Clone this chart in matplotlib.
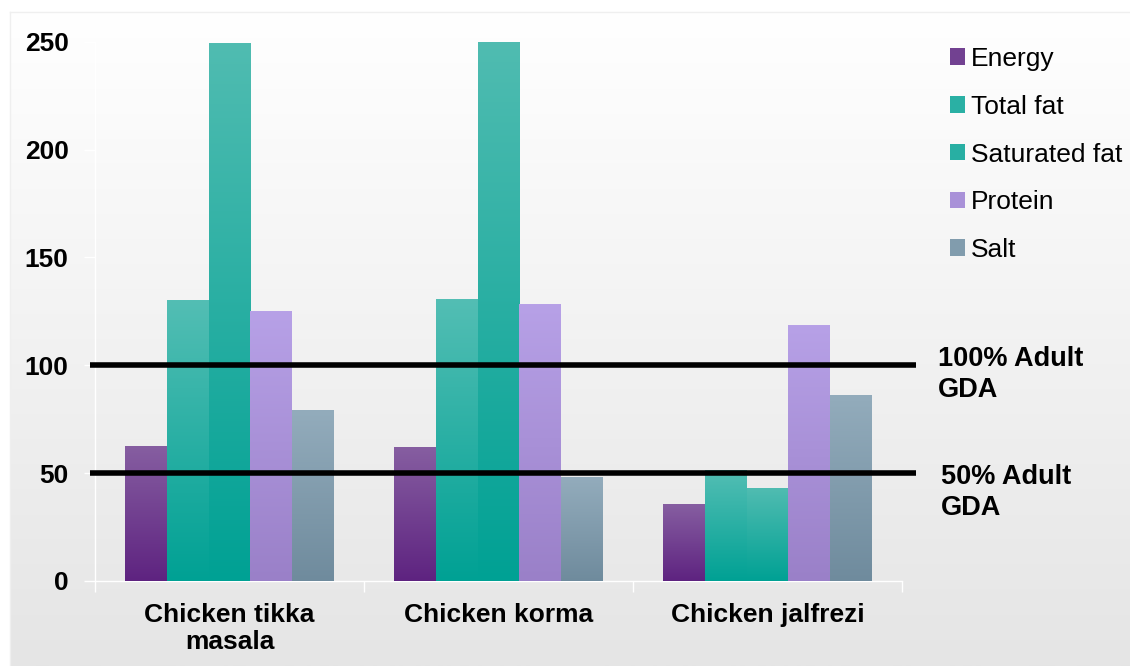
import numpy as np
import matplotlib
matplotlib.use("Agg")
import matplotlib.pyplot as plt
from matplotlib.colors import LinearSegmentedColormap
from matplotlib.patches import Patch

plt.rcParams["font.family"] = ["Liberation Sans", "DejaVu Sans"]

# % of adult GDA per portion
dishes = ["Chicken tikka\nmasala", "Chicken korma", "Chicken jalfrezi"]
nutrients = ["Energy", "Total fat", "Saturated fat", "Protein", "Salt"]
energy = [62.5, 62, 35.5]
total_fat = [130, 130.5, 51]
saturated_fat = [249, 250, 43]
protein = [125, 128, 118.5]
salt = [79, 48, 86]
gda_levels = [100, 50]
gda_labels = ["100% Adult\nGDA", "50% Adult\nGDA"]

series = [energy, total_fat, saturated_fat, protein, salt]
# (top, bottom) gradient colours for each nutrient
shades = [
    ("#865ea1", "#5e2380"),
    ("#53beb4", "#00a194"),
    ("#50bcb1", "#00a194"),
    ("#b7a1e7", "#9a80c8"),
    ("#93acbc", "#6f8b9d"),
]

fig = plt.figure(figsize=(11.3, 6.66), dpi=100)

# chart area background: white fading to light grey
bg = fig.add_axes([10 / 1130, 0, 1 - 10 / 1130, 1 - 12 / 666], zorder=-10)
grad = np.linspace(0, 1, 256).reshape(-1, 1)
bg_cmap = LinearSegmentedColormap.from_list("bg", ["#ffffff", "#e5e5e5"])
bg.imshow(grad, cmap=bg_cmap, aspect="auto", extent=[0, 1, 1, 0])
bg.set_xlim(0, 1)
bg.set_ylim(1, 0)
bg.set_xticks([])
bg.set_yticks([])
for s in bg.spines.values():
    s.set_color("#efefef")
    s.set_linewidth(1)
bg.spines["right"].set_visible(False)
bg.spines["bottom"].set_visible(False)

ax = fig.add_axes([95 / 1130, 1 - 581 / 666, (902 - 95) / 1130, (581 - 41.7) / 666])
ax.set_facecolor("none")

x = np.arange(len(dishes))
width = 0.155
for i, (vals, (top, bottom)) in enumerate(zip(series, shades)):
    bars = ax.bar(x + (i - 2) * width, vals, width, color=bottom, zorder=2)
    cmap = LinearSegmentedColormap.from_list(nutrients[i], [bottom, top])
    for b in bars:
        bx, bw, bh = b.get_x(), b.get_width(), b.get_height()
        ax.imshow(grad, cmap=cmap, aspect="auto", origin="lower",
                  extent=[bx, bx + bw, 0, bh], zorder=3)
        b.set_visible(False)

# reference lines for adult GDA
for level in gda_levels:
    ax.plot([-0.519, 2.552], [level, level], color="black", lw=4,
            solid_capstyle="butt", clip_on=False, zorder=5)

ax.set_xlim(-0.5, 2.5)
ax.set_ylim(0, 250)
ax.set_yticks(np.arange(0, 251, 50))
ax.tick_params(axis="y", colors="white", length=8, width=1, pad=11,
               labelcolor="black", labelsize=19)
ax.set_xticks(x)
ax.set_xticklabels(dishes)
ax.set_xticks([-0.5, 0.5, 1.5, 2.5], minor=True)
ax.tick_params(axis="x", which="major", length=0, pad=16, labelsize=19,
               labelcolor="black")
ax.tick_params(axis="x", which="minor", length=8, width=1, colors="white")
for lab in ax.get_xticklabels() + ax.get_yticklabels():
    lab.set_fontweight("bold")
    lab.set_linespacing(1.15)
for side in ["top", "right"]:
    ax.spines[side].set_visible(False)
for side in ["left", "bottom"]:
    ax.spines[side].set_color("white")
    ax.spines[side].set_linewidth(1)

fig.text(938 / 1130, 1 - 346 / 666, gda_labels[0], ha="left", va="top",
         fontsize=19.5, fontweight="bold", linespacing=1.25)
fig.text(941 / 1130, 1 - 464 / 666, gda_labels[1], ha="left", va="top",
         fontsize=19.5, fontweight="bold", linespacing=1.25)

handles = [Patch(facecolor=LinearSegmentedColormap.from_list("h", [b, t])(0.5))
           for t, b in shades]
fig.legend(handles, nutrients, loc="upper left",
           bbox_to_anchor=(950 / 1130, 1 - 47 / 666), frameon=False,
           fontsize=19, handlelength=0.58, handleheight=0.58,
           handletextpad=0.22, labelspacing=0.9, borderpad=0,
           borderaxespad=0)

fig.savefig("out.png", dpi=100)
